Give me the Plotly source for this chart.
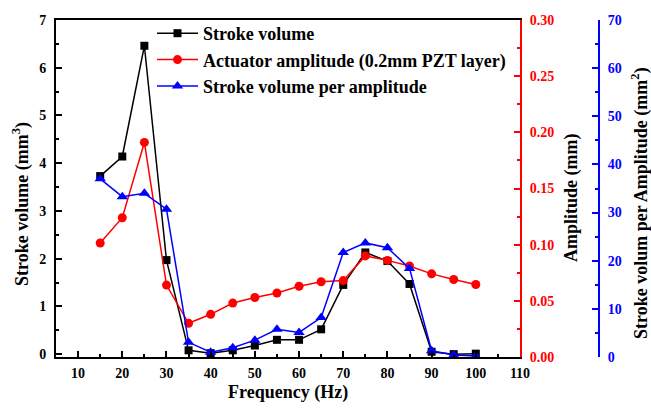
import plotly.graph_objects as go

freq = [15, 20, 25, 30, 35, 40, 45, 50, 55, 60, 65, 70, 75, 80, 85, 90, 95, 100]
stroke_volume = [3.73, 4.14, 6.46, 1.97, 0.08, 0.02, 0.08, 0.18, 0.30, 0.30, 0.52, 1.45, 2.13, 1.95, 1.47, 0.05, 0.0, 0.01]
amplitude = [0.1015, 0.124, 0.191, 0.064, 0.030, 0.038, 0.048, 0.053, 0.057, 0.063, 0.067, 0.068, 0.090, 0.086, 0.081, 0.074, 0.069, 0.0645]
vol_per_amp = [37.0, 33.3, 34.0, 30.7, 3.05, 0.98, 1.93, 3.5, 5.75, 5.1, 8.2, 21.7, 23.7, 22.7, 18.4, 1.3, 0.4, 0.2]

names = ["Stroke volume", "Actuator amplitude (0.2mm PZT layer)", "Stroke volume per amplitude"]
x_title = "Frequency (Hz)"
y_title = "Stroke volume (mm<sup>3</sup>)"
y2_title = "Amplitude (mm)"
y3_title = "Stroke volum per Amplitude (mm<sup>2</sup>)"

FONT = "Liberation Serif, Times New Roman, serif"
RED = "#ff0000"
BLUE = "#0000ff"

fig = go.Figure()
fig.add_trace(go.Scatter(x=freq, y=stroke_volume, name=names[0], mode="lines+markers",
                         line=dict(color="black", width=1.5),
                         marker=dict(symbol="square", size=8, color="black"), yaxis="y"))
fig.add_trace(go.Scatter(x=freq, y=amplitude, name=names[1], mode="lines+markers",
                         line=dict(color=RED, width=1.5),
                         marker=dict(symbol="circle", size=9, color=RED), yaxis="y2"))
fig.add_trace(go.Scatter(x=freq, y=vol_per_amp, name=names[2], mode="lines+markers",
                         line=dict(color=BLUE, width=1.5),
                         marker=dict(symbol="triangle-up", size=10, color=BLUE), yaxis="y3"))

tick_font = dict(family=FONT, size=14, weight="bold")
title_font = dict(family=FONT, size=18, weight="bold", color="black")

# plot region in pixels: x 56..599 (paper), y 20..357
L, R, T, B = 56, 599, 20, 357
W, H = R - L, B - T


def px(x):
    return (x - L) / W


def py(y):
    return (B - y) / H


common_axis = dict(showgrid=False, zeroline=False, automargin=False)

fig.update_layout(
    width=651, height=410,
    margin=dict(l=L, r=651 - R, t=T, b=410 - B, autoexpand=False),
    paper_bgcolor="white", plot_bgcolor="white",
    font=dict(family=FONT, color="black"),
    showlegend=True,
    legend=dict(x=px(152), y=py(15), xanchor="left", yanchor="top",
                bgcolor="rgba(0,0,0,0)", itemwidth=41,
                font=dict(family=FONT, size=18, weight="bold", color="black"),
                tracegroupgap=0),
    xaxis=dict(domain=[0, (520 - L) / W], range=[5, 110], tickvals=list(range(10, 111, 10)),
               ticks="inside", ticklen=6, tickwidth=2, tickcolor="black",
               minor=dict(ticks="inside", ticklen=3, tickwidth=2, dtick=5, tickcolor="black"),
               showline=True, linecolor="black", linewidth=2, mirror=True,
               ticklabelstandoff=2,
               tickfont=dict(color="black", **tick_font), **common_axis),
    yaxis=dict(range=[-0.06, 7], tickvals=list(range(0, 8)),
               ticks="inside", ticklen=6, tickwidth=2, tickcolor="black",
               minor=dict(ticks="inside", ticklen=3, tickwidth=2, dtick=0.5, tickcolor="black"),
               showline=True, linecolor="black", linewidth=2,
               ticklabelstandoff=5,
               tickfont=dict(color="black", **tick_font), **common_axis),
    yaxis2=dict(range=[0, 0.30], tickvals=[0, 0.05, 0.10, 0.15, 0.20, 0.25, 0.30], tickformat=".2f",
                overlaying="y", side="right", anchor="x",
                ticks="inside", ticklen=6, tickwidth=2, tickcolor=RED,
                minor=dict(ticks="inside", ticklen=3, tickwidth=2, dtick=0.025, tickcolor=RED),
                showline=True, linecolor=RED, linewidth=2,
                ticklabelstandoff=5,
                tickfont=dict(color=RED, **tick_font), **common_axis),
    yaxis3=dict(range=[0, 70], tickvals=list(range(0, 71, 10)),
                overlaying="y", side="right", anchor="free", position=1.0,
                ticks="inside", ticklen=6, tickwidth=2, tickcolor=BLUE,
                minor=dict(ticks="inside", ticklen=3, tickwidth=2, dtick=5, tickcolor=BLUE),
                showline=True, linecolor=BLUE, linewidth=2,
                ticklabelstandoff=5,
                tickfont=dict(color=BLUE, **tick_font), **common_axis),
    annotations=[
        dict(text=x_title, x=px(288), y=py(392), xref="paper", yref="paper",
             xanchor="center", yanchor="middle", showarrow=False, font=title_font),
        dict(text=y_title, x=px(21), y=py(204), xref="paper", yref="paper", textangle=-90,
             xanchor="center", yanchor="middle", showarrow=False, font=title_font),
        dict(text=y2_title, x=px(571), y=py(198), xref="paper", yref="paper", textangle=-90,
             xanchor="center", yanchor="middle", showarrow=False, font=title_font),
        dict(text=y3_title, x=px(640), y=py(203), xref="paper", yref="paper", textangle=-90,
             xanchor="center", yanchor="middle", showarrow=False, font=title_font),
    ],
)

fig.write_html("out.html", config={"displayModeBar": False},
               post_script="document.body.style.margin='0';")
